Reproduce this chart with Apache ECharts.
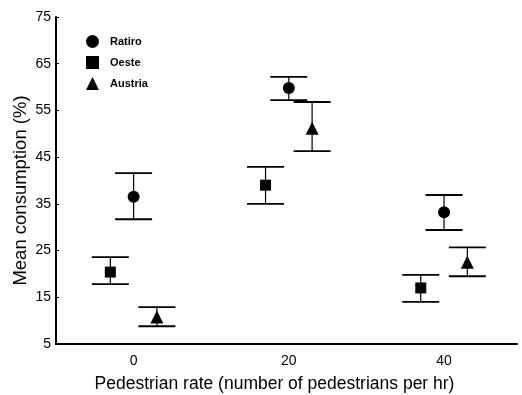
<!DOCTYPE html>
<html><head><meta charset="utf-8">
<script src="https://cdn.jsdelivr.net/npm/echarts@6/dist/echarts.min.js"></script>
<style>html,body{margin:0;padding:0;background:#fff}#c{width:522px;height:395px}</style>
</head><body><div id="c"></div>
<script>
var categories = [0, 20, 40];
var seriesNames = ['Ratiro', 'Oeste', 'Austria'];
var offsets = [0, -3, 3];
var retiroMean = [36.5, 59.8, 33.2];
var retiroLow = [31.7, 57.2, 29.4];
var retiroHigh = [41.6, 62.2, 36.9];
var oesteMean = [20.4, 39.0, 17.0];
var oesteLow = [17.8, 35.0, 14.0];
var oesteHigh = [23.6, 42.9, 19.8];
var austriaMean = [10.8, 51.2, 22.5];
var austriaLow = [8.8, 46.3, 19.5];
var austriaHigh = [12.9, 56.8, 25.7];
var yTicks = [5, 15, 25, 35, 45, 55, 65, 75];
var xTickLabels = [0, 20, 40];

var means = [retiroMean, oesteMean, austriaMean];
var lows = [retiroLow, oesteLow, austriaLow];
var highs = [retiroHigh, oesteHigh, austriaHigh];
var symbols = ['circle', 'rect', 'triangle'];
var sizes = [12, 11, 13];
var font = 'Liberation Sans, Arial, sans-serif';

var series = [];
seriesNames.forEach(function (name, s) {
  var pts = categories.map(function (c, i) { return [c + offsets[s], means[s][i]]; });
  var errs = categories.map(function (c, i) { return [c + offsets[s], lows[s][i], highs[s][i]]; });
  series.push({
    type: 'custom', name: name + '_err', silent: true, z: 2,
    data: errs,
    renderItem: function (params, api) {
      var x = api.value(0);
      var lo = api.coord([x, api.value(1)]);
      var hi = api.coord([x, api.value(2)]);
      var hw = 18.5;
      var st = { stroke: '#000', lineWidth: 1.8 };
      return { type: 'group', children: [
        { type: 'line', shape: { x1: lo[0], y1: lo[1], x2: hi[0], y2: hi[1] }, style: { stroke: '#000', lineWidth: 1.2 } },
        { type: 'line', shape: { x1: lo[0] - hw, y1: lo[1], x2: lo[0] + hw, y2: lo[1] }, style: st },
        { type: 'line', shape: { x1: hi[0] - hw, y1: hi[1], x2: hi[0] + hw, y2: hi[1] }, style: st }
      ]};
    }
  });
  series.push({
    type: 'scatter', name: name, symbol: symbols[s], symbolSize: sizes[s], z: 3,
    itemStyle: { color: '#000', opacity: 1 }, data: pts
  });
});

var chart = echarts.init(document.getElementById('c'));
chart.setOption({
  animation: false,
  backgroundColor: '#fff',
  grid: { left: 56, right: 5, top: 17, bottom: 51, containLabel: false, outerBoundsMode: 'none' },
  legend: {
    data: seriesNames.map(function (n, s) { return { name: n, icon: symbols[s] }; }),
    orient: 'vertical', left: 81, top: 30, itemGap: 8, itemWidth: 13, itemHeight: 13,
    itemStyle: { color: '#000', opacity: 1 },
    textStyle: { fontFamily: font, fontSize: 11, fontWeight: 'bold', color: '#000', padding: [0, 0, 0, 6] }
  },
  xAxis: {
    type: 'value', min: -10, max: 49.4, interval: 10,
    name: 'Pedestrian rate (number of pedestrians per hr)', nameLocation: 'middle', nameGap: 31,
    nameMoveOverlap: false,
    nameTextStyle: { fontFamily: font, fontSize: 17.5, color: '#000', padding: [0, 24, 0, 0] },
    axisLine: { onZero: false, lineStyle: { color: '#000', width: 2 } },
    axisTick: { show: false }, splitLine: { show: false },
    axisLabel: { fontFamily: font, fontSize: 14, color: '#000', margin: 10,
      formatter: function (v) { return xTickLabels.indexOf(v) >= 0 ? String(v) : ''; } }
  },
  yAxis: {
    type: 'value', min: 5, max: 75, interval: 10,
    name: 'Mean consumption (%)', nameLocation: 'middle', nameGap: 26,
    nameMoveOverlap: false,
    nameTextStyle: { fontFamily: font, fontSize: 18.5, color: '#000', padding: [0, 20, 0, 0] },
    axisLine: { show: true, onZero: false, lineStyle: { color: '#000', width: 2 } },
    axisTick: { show: true, inside: true, length: 3, lineStyle: { color: '#000' } },
    splitLine: { show: false },
    axisLabel: { fontFamily: font, fontSize: 14, color: '#000', margin: 5,
      formatter: function (v) { return yTicks.indexOf(v) >= 0 ? String(v) : ''; } }
  },
  series: series
});
</script></body></html>
